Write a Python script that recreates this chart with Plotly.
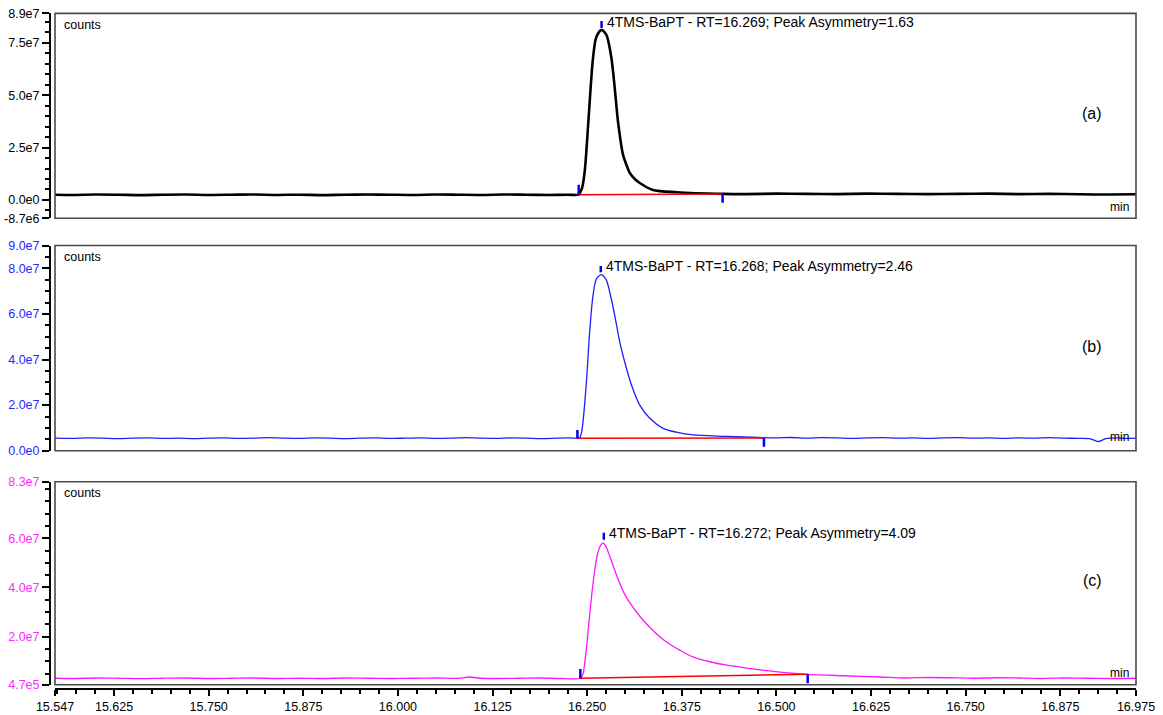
import plotly.graph_objects as go

W, H = 1163, 715

# ---------------- data ----------------
x_tickvals = [15.547, 15.625, 15.750, 15.875, 16.000, 16.125, 16.250,
              16.375, 16.500, 16.625, 16.750, 16.875, 16.975]
x_ticktext = ["15.547", "15.625", "15.750", "15.875", "16.000", "16.125", "16.250",
              "16.375", "16.500", "16.625", "16.750", "16.875", "16.975"]

# panel (a) - time (min) and counts (millions)
time_a = [15.547, 15.57, 15.60, 15.63, 15.66, 15.69, 15.72, 15.75, 15.78, 15.81, 15.84,
          15.87, 15.90, 15.93, 15.96, 15.99, 16.02, 16.05, 16.08, 16.11, 16.14, 16.17,
          16.20, 16.225, 16.2388,
          16.2401, 16.2432, 16.2467, 16.2498, 16.2533, 16.2577, 16.2622, 16.2688, 16.2754,
          16.2820, 16.2864, 16.2908, 16.2974, 16.3019, 16.3063, 16.3129, 16.3195, 16.3367,
          16.3684, 16.4293,
          16.46, 16.50, 16.54, 16.58, 16.62, 16.66, 16.70, 16.74, 16.78, 16.82, 16.86,
          16.90, 16.94, 16.975]
counts_a = [2.5, 2.4, 2.6, 2.5, 2.3, 2.5, 2.6, 2.4, 2.5, 2.6, 2.4,
            2.5, 2.3, 2.5, 2.6, 2.5, 2.4, 2.6, 2.5, 2.4, 2.6, 2.5,
            2.4, 2.5, 2.5,
            3.2, 5.6, 13.4, 27.8, 46.7, 67.7, 77.9, 81.1, 78.7,
            67.7, 53.4, 37.2, 21.5, 16.7, 12.9, 10.0, 8.1, 4.8,
            3.7, 2.9,
            2.8, 3.0, 2.9, 2.8, 3.0, 2.9, 2.8, 2.9, 3.0, 2.8, 2.9,
            2.7, 2.6, 2.7]

# panel (b)
time_b = [15.547, 15.57, 15.59, 15.61, 15.63, 15.65, 15.67, 15.69, 15.71, 15.73, 15.75,
          15.77, 15.79, 15.81, 15.83, 15.85, 15.87, 15.89, 15.91, 15.93, 15.95, 15.97,
          15.99, 16.01, 16.03, 16.05, 16.07, 16.09, 16.11, 16.13, 16.15, 16.17, 16.19,
          16.21, 16.225, 16.2371,
          16.2401, 16.2424, 16.2445, 16.2490, 16.2533, 16.2577, 16.2622, 16.2688, 16.2754,
          16.2798, 16.2864, 16.2930, 16.2996, 16.3085, 16.3195, 16.3327, 16.3503, 16.3680,
          16.3900, 16.4342, 16.4835,
          16.50, 16.52, 16.54, 16.56, 16.58, 16.60, 16.62, 16.64, 16.66, 16.68, 16.70,
          16.72, 16.74, 16.76, 16.78, 16.80, 16.82, 16.84, 16.86, 16.88, 16.90, 16.915,
          16.925, 16.935, 16.95, 16.96, 16.975]
counts_b = [5.5, 5.4, 5.6, 5.5, 5.3, 5.5, 5.6, 5.4, 5.5, 5.3, 5.5,
            5.6, 5.4, 5.5, 5.7, 5.5, 5.4, 5.6, 5.5, 5.3, 5.5, 5.6,
            5.4, 5.5, 5.6, 5.4, 5.5, 5.7, 5.5, 5.4, 5.6, 5.5, 5.3,
            5.5, 5.6, 5.5,
            5.7, 7.7, 12.7, 30.2, 52.1, 68.1, 75.4, 77.2, 74.7,
            69.6, 59.4, 47.7, 38.9, 28.8, 20.0, 14.2, 9.8, 8.1,
            6.9, 6.3, 5.7,
            5.6, 5.8, 5.5, 5.7, 5.6, 5.4, 5.6, 5.7, 5.5, 5.6, 5.4,
            5.6, 5.7, 5.5, 5.6, 5.4, 5.6, 5.5, 5.7, 5.5, 5.4, 5.2,
            4.0, 5.3, 5.6, 5.4, 5.5]

# panel (c)
time_c = [15.547, 15.57, 15.60, 15.63, 15.66, 15.69, 15.72, 15.75, 15.78, 15.81, 15.84,
          15.87, 15.90, 15.93, 15.96, 15.99, 16.02, 16.05, 16.08, 16.095, 16.105, 16.13,
          16.16, 16.19, 16.215, 16.2410,
          16.2441, 16.2481, 16.2520, 16.2560, 16.2600, 16.2639, 16.2679, 16.2712, 16.2745,
          16.2798, 16.2864, 16.2930, 16.2996, 16.3063, 16.3195, 16.3327, 16.3459, 16.3592,
          16.3724, 16.3896, 16.4121, 16.4346, 16.4584, 16.4782, 16.5047, 16.5404, 16.5880,
          16.6369,
          16.67, 16.70, 16.73, 16.76, 16.79, 16.82, 16.85, 16.88, 16.91, 16.94, 16.975]
counts_c = [3.1, 3.0, 3.2, 3.1, 2.9, 3.1, 3.2, 3.0, 3.1, 3.2, 3.0,
            3.1, 3.0, 3.2, 3.1, 3.0, 3.1, 3.2, 3.1, 3.6, 3.2, 3.0,
            3.1, 3.2, 3.0, 3.1,
            4.4, 12.6, 24.8, 37.0, 47.0, 53.9, 57.2, 58.0, 56.8,
            52.7, 47.0, 41.7, 37.2, 33.8, 28.3, 23.8, 20.0, 16.9,
            14.5, 11.8, 9.8, 8.4, 7.3, 6.5, 5.6, 4.7, 4.1,
            3.6,
            3.2, 3.4, 3.3, 3.1, 3.3, 3.2, 3.0, 3.2, 3.1, 3.0, 3.1]

panel_tags = ["(a)", "(b)", "(c)"]
peak_labels = ["4TMS-BaPT - RT=16.269; Peak Asymmetry=1.63",
               "4TMS-BaPT - RT=16.268; Peak Asymmetry=2.46",
               "4TMS-BaPT - RT=16.272; Peak Asymmetry=4.09"]
peak_rt = [16.269, 16.268, 16.272]
peak_label_y = [84.9, 80.8, 62.2]          # millions
peak_mark_top = [85.4, 81.0, 62.2]
peak_mark_bottom = [82.0, 78.3, 59.4]
base_start_t = [16.2388, 16.2371, 16.2410]
base_start_v = [2.5, 5.5, 3.1]
base_start_top = [7.2, 9.1, 6.9]
base_end_t = [16.4289, 16.4835, 16.5413]
base_end_v = [2.9, 5.6, 4.7]
base_end_bottom = [-1.3, 1.75, 1.06]

y_ranges = [[-8.7e6, 8.9e7], [0, 9.0e7], [4.7e5, 8.3e7]]
y_tickvals = [[-8.7e6, 0, 2.5e7, 5.0e7, 7.5e7, 8.9e7],
              [0, 2.0e7, 4.0e7, 6.0e7, 8.0e7, 9.0e7],
              [4.7e5, 2.0e7, 4.0e7, 6.0e7, 8.3e7]]
y_ticktext = [["-8.7e6", "0.0e0", "2.5e7", "5.0e7", "7.5e7", "8.9e7"],
              ["0.0e0", "2.0e7", "4.0e7", "6.0e7", "8.0e7", "9.0e7"],
              ["4.7e5", "2.0e7", "4.0e7", "6.0e7", "8.3e7"]]

line_colors = ["black", "rgb(30,30,250)", "rgb(255,20,255)"]
line_widths = [2.6, 1.3, 1.3]
label_colors = ["black", "rgb(40,40,255)", "rgb(255,40,255)"]

# ---------------- layout helpers ----------------
def px_x(p):
    return p / W

def px_y(p):
    return 1 - p / H

X_DOM = [px_x(55), px_x(1136)]
Y_DOMS = [[px_y(218.2), px_y(13.4)],
          [px_y(450.7), px_y(245.5)],
          [px_y(684.7), px_y(481.7)]]
counts_y = [25, 257, 493]
min_y = [207, 437, 673]
tag_y = [113, 347, 580]

FONT = "Liberation Sans, Arial, sans-serif"
M = 1e6

fig = go.Figure()
times = [time_a, time_b, time_c]
counts = [counts_a, counts_b, counts_c]
yrefs = ["y", "y2", "y3"]

for i in range(3):
    fig.add_trace(go.Scatter(
        x=times[i], y=[v * M for v in counts[i]], mode="lines", yaxis=yrefs[i], xaxis="x",
        line=dict(color=line_colors[i], width=line_widths[i], shape="spline", smoothing=0.8),
        showlegend=False, hoverinfo="skip"))
    # integration baseline
    fig.add_trace(go.Scatter(
        x=[base_start_t[i], base_end_t[i]], y=[base_start_v[i] * M, base_end_v[i] * M],
        mode="lines", yaxis=yrefs[i], xaxis="x",
        line=dict(color="rgb(255,0,0)", width=1.5), showlegend=False, hoverinfo="skip"))
    # blue markers: start, end, apex
    fig.add_trace(go.Scatter(
        x=[base_start_t[i], base_start_t[i], None,
           base_end_t[i], base_end_t[i], None,
           peak_rt[i], peak_rt[i]],
        y=[base_start_v[i] * M, base_start_top[i] * M, None,
           base_end_v[i] * M, base_end_bottom[i] * M, None,
           peak_mark_bottom[i] * M, peak_mark_top[i] * M],
        mode="lines", yaxis=yrefs[i], xaxis="x",
        line=dict(color="rgb(0,0,235)", width=2.5), showlegend=False, hoverinfo="skip"))

layout = dict(
    width=W, height=H, autosize=False,
    margin=dict(l=0, r=0, t=0, b=0),
    paper_bgcolor="white", plot_bgcolor="white",
    font=dict(family=FONT, size=12, color="black"),
    showlegend=False,
    xaxis=dict(
        domain=X_DOM, range=[15.547, 16.975], anchor="free", position=px_y(689),
        tickmode="array", tickvals=x_tickvals, ticktext=x_ticktext,
        ticks="outside", ticklen=6, tickwidth=2, tickcolor="black",
        minor=dict(ticks="outside", ticklen=4, tickwidth=2, tickcolor="black",
                   tickmode="linear", tick0=15.5, dtick=0.025, showgrid=False),
        showline=True, linecolor="black", linewidth=2,
        showgrid=False, zeroline=False, automargin=False,
        tickfont=dict(family=FONT, size=12.5, color="black"),
    ),
)
for i in range(3):
    key = "yaxis" if i == 0 else f"yaxis{i + 1}"
    layout[key] = dict(
        domain=Y_DOMS[i], range=y_ranges[i], anchor="free", position=px_x(50),
        tickmode="array", tickvals=y_tickvals[i], ticktext=y_ticktext[i],
        ticks="outside", ticklen=7, tickwidth=2, tickcolor="black",
        minor=dict(ticks="outside", ticklen=4, tickwidth=2, tickcolor="black",
                   tickmode="linear", tick0=0, dtick=5e6, showgrid=False),
        showline=True, linecolor="black", linewidth=2,
        showgrid=False, zeroline=False, automargin=False,
        tickfont=dict(family=FONT, size=12.5, color=label_colors[i]),
    )
fig.update_layout(**layout)

shapes = []
annotations = []
for i in range(3):
    shapes.append(dict(type="rect", xref="paper", yref="paper",
                       x0=X_DOM[0], x1=X_DOM[1], y0=Y_DOMS[i][0], y1=Y_DOMS[i][1],
                       line=dict(color="#4a4a4a", width=1.6)))
    annotations.append(dict(xref="paper", yref="paper", x=px_x(62), y=px_y(counts_y[i]),
                            xanchor="left", yanchor="middle", text="counts", showarrow=False,
                            font=dict(family=FONT, size=12.5, color="black")))
    annotations.append(dict(xref="paper", yref="paper", x=px_x(1131), y=px_y(min_y[i]),
                            xanchor="right", yanchor="middle", text="min", showarrow=False,
                            font=dict(family=FONT, size=12, color="black")))
    annotations.append(dict(xref="paper", yref="paper", x=px_x(1092), y=px_y(tag_y[i]),
                            xanchor="center", yanchor="middle", text=panel_tags[i],
                            showarrow=False, font=dict(family=FONT, size=16, color="black")))
    annotations.append(dict(xref="x", yref=yrefs[i], x=peak_rt[i], y=peak_label_y[i] * M,
                            xanchor="left", yanchor="middle", xshift=3, text=peak_labels[i],
                            showarrow=False, font=dict(family=FONT, size=14, color="black")))
fig.update_layout(shapes=shapes, annotations=annotations)

fig.write_html("out.html")
